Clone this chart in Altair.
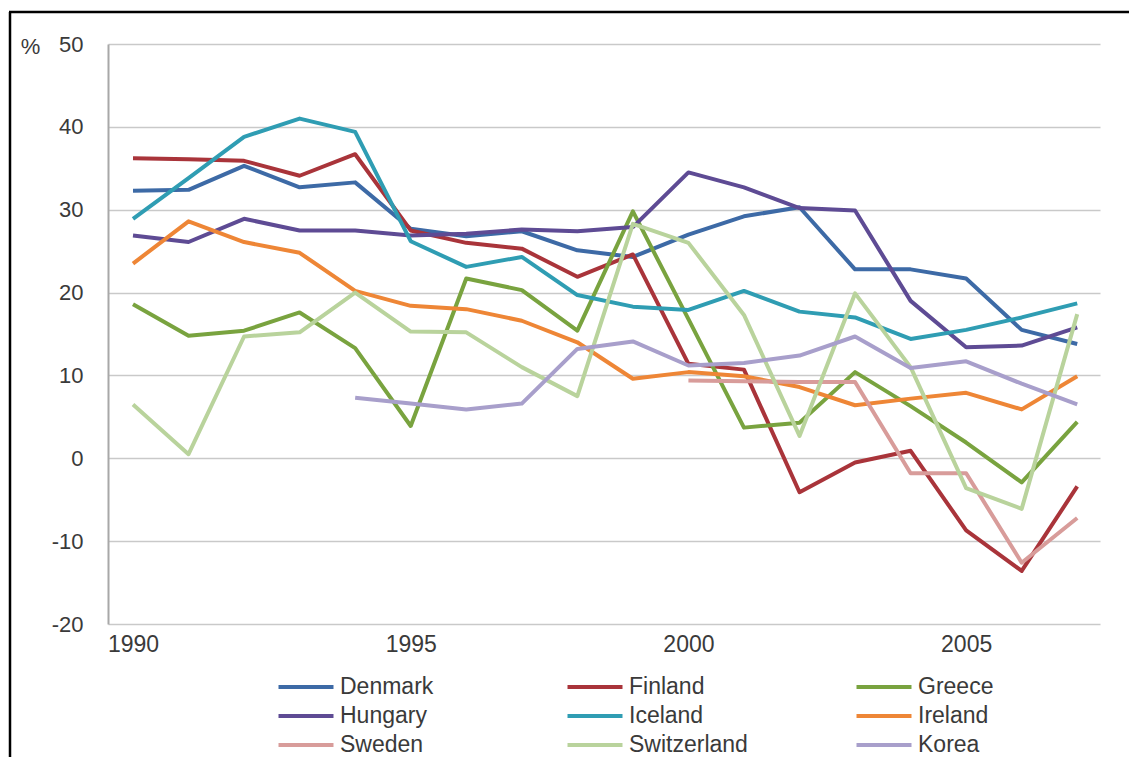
import altair as alt
import pandas as pd

years = list(range(1990, 2008))
countries = ["Denmark", "Finland", "Greece", "Hungary", "Iceland", "Ireland",
             "Sweden", "Switzerland", "Korea"]
colors = ["#3d6aa6", "#a9343a", "#79a33f", "#5e4b94", "#2f9db3", "#ee8636",
          "#d89c9a", "#b9d39c", "#a89fcb"]

denmark = [32.3, 32.4, 35.3, 32.7, 33.3, 27.7, 26.8, 27.4, 25.1, 24.3, 27.0, 29.2, 30.3, 22.8, 22.8, 21.7, 15.5, 13.8]
finland = [36.2, 36.1, 35.9, 34.1, 36.7, 27.5, 26.0, 25.3, 21.9, 24.6, 11.4, 10.7, -4.1, -0.5, 0.9, -8.7, -13.6, -3.4]
greece = [18.6, 14.8, 15.4, 17.6, 13.3, 3.9, 21.7, 20.3, 15.4, 29.8, 16.8, 3.7, 4.3, 10.4, 6.3, 1.9, -2.9, 4.4]
hungary = [26.9, 26.1, 28.9, 27.5, 27.5, 26.9, 27.1, 27.6, 27.4, 27.9, 34.5, 32.7, 30.2, 29.9, 19.0, 13.4, 13.6, 15.8]
iceland = [28.9, 33.8, 38.8, 41.0, 39.4, 26.2, 23.1, 24.3, 19.7, 18.3, 17.9, 20.2, 17.7, 17.0, 14.4, 15.5, 17.0, 18.7]
ireland = [23.5, 28.6, 26.1, 24.8, 20.2, 18.4, 18.0, 16.6, 14.0, 9.6, 10.4, 9.9, 8.6, 6.4, 7.2, 7.9, 5.9, 9.9]
sweden = [None] * 10 + [9.4, 9.3, 9.2, 9.2, -1.8, -1.8, -12.6, -7.2]
switzerland = [6.5, 0.5, 14.7, 15.2, 20.0, 15.3, 15.2, 11.0, 7.5, 28.3, 26.0, 17.3, 2.7, 19.9, 11.0, -3.6, -6.1, 17.4]
korea = [None] * 4 + [7.3, 6.6, 5.9, 6.6, 13.2, 14.1, 11.2, 11.5, 12.4, 14.7, 10.9, 11.7, 9.0, 6.5]

series = [denmark, finland, greece, hungary, iceland, ireland, sweden, switzerland, korea]

rows = []
for name, vals in zip(countries, series):
    for yr, v in zip(years, vals):
        if v is not None:
            rows.append({"year": yr, "value": v, "country": name})
df = pd.DataFrame(rows)

FONT = "Liberation Sans"
TXT = "#3a3a3a"

lines = alt.Chart(df).mark_line(strokeWidth=4, strokeJoin="round", strokeCap="butt").encode(
    x=alt.X("year:Q",
            scale=alt.Scale(domain=[1989.55, 2007.41], nice=False, zero=False),
            axis=alt.Axis(values=[1990, 1995, 2000, 2005], format="d", title=None,
                          grid=False, ticks=False, domain=False,
                          labelFontSize=23, labelPadding=9, labelColor=TXT,
                          labelFont=FONT)),
    y=alt.Y("value:Q",
            scale=alt.Scale(domain=[-20, 50], nice=False),
            axis=alt.Axis(values=[-20, -10, 0, 10, 20, 30, 40, 50], title="%",
                          labelExpr="'' + datum.value",
                          titleAngle=0, titleX=-78, titleY=2, titleAlign="center",
                          titleBaseline="middle", titleFontSize=22,
                          titleFontWeight="normal", titleColor=TXT, titleFont=FONT,
                          grid=True, gridColor="#c9c9c9", gridWidth=1.5,
                          ticks=False, domain=True, domainColor="#a8a8a8",
                          domainWidth=2, labelFontSize=22, labelPadding=25,
                          labelColor=TXT, labelFont=FONT)),
    color=alt.Color("country:N",
                    scale=alt.Scale(domain=countries, range=colors),
                    legend=alt.Legend(title=None, orient="none", direction="horizontal",
                                      legendX=181, legendY=626, columns=3,
                                      gridAlign="all", columnPadding=100,
                                      rowPadding=0,
                                      symbolType="M-1.833,0H1.833", symbolSize=900,
                                      symbolStrokeWidth=4, symbolFillColor="transparent",
                                      labelFontSize=23,
                                      labelOffset=17, labelColor=TXT,
                                      labelFont=FONT)),
    detail="country:N",
)

frame_df = pd.DataFrame({"k": [0]})
left_border = alt.Chart(frame_df).mark_rule(color="black", strokeWidth=2.5).encode(
    x=alt.value(-98), y=alt.value(-32), y2=alt.value(713))
top_border = alt.Chart(frame_df).mark_rule(color="black", strokeWidth=2.5).encode(
    y=alt.value(-32), x=alt.value(-99), x2=alt.value(1021))

chart = alt.layer(lines, left_border, top_border).properties(
    width=992, height=580,
    padding={"left": 100, "top": 36, "right": 29, "bottom": 133},
    autosize=alt.AutoSizeParams(type="none"),
    background="white",
).configure_view(stroke=None).configure_axisX(
    domain=True, domainColor="#c9c9c9", domainWidth=1.5
)

chart.save("out.html", embed_options={"renderer": "svg", "actions": False})
